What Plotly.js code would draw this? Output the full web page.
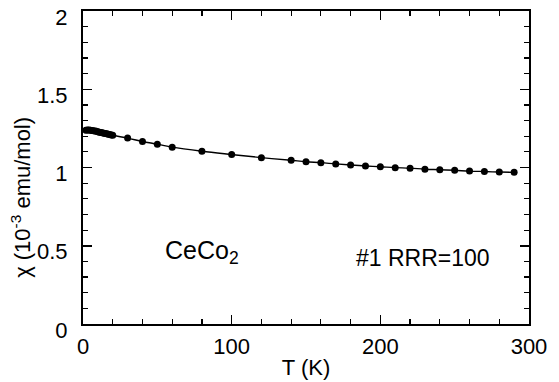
<!DOCTYPE html>
<html>
<head>
<meta charset="utf-8">
<script src="https://cdn.plot.ly/plotly-3.0.1.min.js"></script>
<style>html,body{margin:0;padding:0;background:#fff;}#chart{width:559px;height:382px;}</style>
</head>
<body>
<div id="chart"></div>
<script>
// Temperature (K)
const temperature = [2,3,4,5,6,7,8,9,10,11,12,13,14,15,16,17,18,19,20,
  30,40,50,60,80,100,120,140,150,160,170,180,190,200,210,220,230,240,250,260,270,280,290];
// Susceptibility chi (10^-3 emu/mol)
const chi = [1.238,1.239,1.239,1.238,1.237,1.235,1.233,1.231,1.228,1.226,1.224,1.222,1.219,1.217,1.215,1.213,1.211,1.208,1.206,
  1.188,1.166,1.149,1.130,1.104,1.083,1.063,1.046,1.037,1.031,1.023,1.016,1.010,1.005,0.999,0.996,0.989,0.986,0.982,0.977,0.974,0.971,0.969];

const xTickVals = [0,100,200,300];
const yTickVals = [0,0.5,1,1.5,2];
const yTickText = ['0','0.5','1','1.5','2'];

const fontFam = 'Liberation Sans, Arial, sans-serif';

const trace = {
  x: temperature, y: chi,
  mode: 'lines+markers',
  line: {color: '#000', width: 1.4, shape: 'spline'},
  marker: {color: '#000', size: 7},
  showlegend: false,
  hoverinfo: 'skip'
};

const axisCommon = {
  showline: true, linecolor: '#000', linewidth: 2,
  mirror: 'allticks', ticks: 'inside', ticklen: 9, tickwidth: 1.5, tickcolor: '#000',
  showgrid: false, zeroline: false, ticklabeloverflow: 'allow',
  tickfont: {family: fontFam, size: 22, color: '#000'}
};

const layout = {
  width: 559, height: 382,
  margin: {l: 83, r: 30, t: 11, b: 58},
  paper_bgcolor: '#fff', plot_bgcolor: '#fff',
  xaxis: Object.assign({}, axisCommon, {
    range: [0, 300], tickmode: 'array', tickvals: xTickVals,
    minor: {dtick: 20, ticks: 'inside', ticklen: 5, tickwidth: 1.2, tickcolor: '#000', showgrid: false},
    title: {text: 'T (K)', font: {family: fontFam, size: 22, color: '#000'}, standoff: 1},
    ticklabelstandoff: 2
  }),
  yaxis: Object.assign({}, axisCommon, {
    range: [0, 2], tickmode: 'array', tickvals: yTickVals, ticktext: yTickText,
    minor: {dtick: 0.1, ticks: 'inside', ticklen: 5, tickwidth: 1.2, tickcolor: '#000', showgrid: false},
    ticklabelstandoff: 9, ticklabelshift: 6
  }),
  annotations: [
    {text: 'χ (10<sup>-3</sup> emu/mol)', xref: 'paper', yref: 'paper', x: -0.139, y: 0.403,
     xanchor: 'center', yanchor: 'middle', textangle: -90, showarrow: false,
     font: {family: fontFam, size: 22, color: '#000'}},
    {text: 'CeCo<sub>2</sub>', xref: 'x', yref: 'y', x: 80, y: 0.46,
     xanchor: 'center', yanchor: 'middle', showarrow: false,
     font: {family: fontFam, size: 25, color: '#000'}},
    {text: '#1 RRR=100', xref: 'x', yref: 'y', x: 229, y: 0.42,
     xanchor: 'center', yanchor: 'middle', showarrow: false,
     font: {family: fontFam, size: 23, color: '#000'}}
  ]
};

Plotly.newPlot('chart', [trace], layout, {staticPlot: true, displayModeBar: false});
</script>
</body>
</html>
